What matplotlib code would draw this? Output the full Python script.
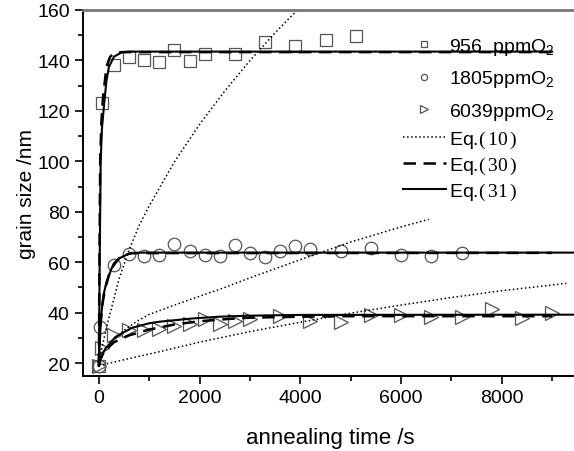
import matplotlib
matplotlib.use("Agg")
import matplotlib.pyplot as plt

plt.rcParams['font.family'] = ['Liberation Sans', 'DejaVu Sans']
plt.rcParams['mathtext.fontset'] = 'custom'
plt.rcParams['mathtext.rm'] = 'Liberation Sans'
plt.rcParams['mathtext.it'] = 'Liberation Sans:italic'
plt.rcParams['mathtext.sf'] = 'Liberation Serif'

# measured grain sizes
t_956 = [0, 60, 300, 600, 900, 1200, 1500, 1800, 2100, 2700, 3300, 3900, 4500, 5100]
d_956 = [19, 123, 138, 141.3, 140.3, 139.5, 144, 139.8, 142.5, 142.5, 147.3, 145.8, 148.2, 149.8]

t_1805 = [0, 30, 300, 600, 900, 1200, 1500, 1800, 2100, 2400, 2700, 3000, 3300, 3600,
          3900, 4200, 4800, 5400, 6000, 6600, 7200]
d_1805 = [19, 34.2, 58.8, 63.3, 62.6, 62.8, 67.2, 64.3, 62.8, 62.4, 66.7, 63.5, 62.2, 64.3,
          66.5, 65.2, 64.4, 65.8, 62.8, 62.5, 63.6]

t_6039 = [0, 60, 300, 600, 900, 1200, 1500, 1800, 2100, 2400, 2700, 3000, 3600, 4200,
          4800, 5400, 6000, 6600, 7200, 7800, 8400, 9000]
d_6039 = [19, 26, 31.3, 33, 33.3, 33.7, 34.6, 35.5, 37.5, 35.5, 36.5, 37.6, 38.8, 36.5,
          36.1, 39, 39, 38.4, 38.4, 41.4, 38, 39.7]

# Eq.(10) curves
eq10_t_956 = [0, 50, 100, 200, 400, 600, 800, 1000, 1500, 2000, 2500, 3000, 3500, 3940]
eq10_d_956 = [19, 25, 29.7, 38, 53.4, 65, 74.6, 82.4, 99.8, 114.7, 127.9, 140, 151, 160]
eq10_t_1805 = [0, 50, 150, 300, 500, 750, 1000, 1500, 2000, 2500, 3000, 4000, 5000, 6000, 6550]
eq10_d_1805 = [19, 22, 26, 29.5, 33, 36.5, 39.3, 43, 46.5, 50, 53.8, 61, 68, 74, 77]
eq10_t_6039 = [0, 600, 1200, 2000, 3000, 4000, 5000, 6000, 7000, 8000, 9280]
eq10_d_6039 = [19, 21.8, 24.5, 28.3, 32.5, 36.2, 39.8, 43, 46, 48.7, 51.6]

# Eq.(30) curves
eq30_t_956 = [0, 10, 25, 50, 80, 150, 220, 300, 450, 9000]
eq30_d_956 = [19, 60, 100, 116, 125, 137.5, 141.4, 142.8, 143.3, 143.3]
eq30_t_1805 = [0, 10, 30, 70, 130, 200, 300, 450, 650, 9000]
eq30_d_1805 = [19, 27, 35, 43.5, 50, 55, 59.5, 62.5, 63.6, 63.7]
eq30_t_6039 = [0, 30, 100, 300, 600, 1000, 1500, 2000, 2500, 3000, 4000, 5000, 9000]
eq30_d_6039 = [19, 21.5, 24.5, 28.3, 31, 33.3, 35.3, 36.6, 37.4, 38, 38.4, 38.6, 38.6]

# Eq.(31) curves
eq31_t_956 = [0, 15, 35, 60, 100, 150, 200, 300, 450, 600, 9000]
eq31_d_956 = [19, 60, 100, 113, 122, 132, 137.5, 141.5, 143.2, 143.5, 143.5]
eq31_t_1805 = [0, 20, 50, 90, 150, 250, 400, 600, 800, 9600]
eq31_d_1805 = [19, 30, 40, 47, 52, 57.5, 61.5, 63.4, 63.8, 63.8]
eq31_t_6039 = [0, 30, 130, 330, 660, 1000, 1200, 1860, 2400, 3000, 4000, 9600]
eq31_d_6039 = [19, 22, 25.8, 30.4, 34, 35.8, 36.4, 37.7, 38.4, 38.8, 39.1, 39.2]

fig = plt.figure(figsize=(5.74, 4.52), dpi=100)
ax = fig.add_axes([0.1446, 0.1666, 0.86, 0.8091])

mk = dict(linestyle='none', markerfacecolor='none', markeredgecolor='#555555',
          markeredgewidth=0.9)
h1, = ax.plot(t_956, d_956, marker='s', markersize=8.5, label='956  ppmO$_2$', **mk)
h2, = ax.plot(t_1805, d_1805, marker='o', markersize=9, label='1805ppmO$_2$', **mk)
h3, = ax.plot(t_6039, d_6039, marker='>', markersize=10.5, label='6039ppmO$_2$', **mk)

for tt, dd in [(eq10_t_956, eq10_d_956), (eq10_t_1805, eq10_d_1805), (eq10_t_6039, eq10_d_6039)]:
    ax.plot(tt, dd, color='black', linestyle=':', linewidth=1.1)
for tt, dd in [(eq30_t_956, eq30_d_956), (eq30_t_1805, eq30_d_1805), (eq30_t_6039, eq30_d_6039)]:
    ax.plot(tt, dd, color='black', linestyle=(0, (5, 3)), linewidth=1.8)
for tt, dd in [(eq31_t_956, eq31_d_956), (eq31_t_1805, eq31_d_1805), (eq31_t_6039, eq31_d_6039)]:
    ax.plot(tt, dd, color='black', linestyle='-', linewidth=1.5)

# legend proxies for the fit curves
h4, = ax.plot([], [], color='black', linestyle=':', linewidth=1.1, label='Eq.$\\mathsf{(\\,10\\,)}$')
h5, = ax.plot([], [], color='black', linestyle=(0, (5, 3)), linewidth=1.8, label='Eq.$\\mathsf{(\\,30\\,)}$')
h6, = ax.plot([], [], color='black', linestyle='-', linewidth=1.5, label='Eq.$\\mathsf{(\\,31\\,)}$')

ax.set_xlim(-316, 9485)
ax.set_ylim(15, 160)
ax.set_xticks([0, 2000, 4000, 6000, 8000])
ax.set_xticks(range(1000, 10000, 2000), minor=True)
ax.set_yticks(range(20, 161, 20))
ax.set_yticks(range(30, 160, 20), minor=True)
ax.tick_params(axis='both', which='major', direction='out', length=6, width=1.2,
               labelsize=14, top=False, right=False)
ax.tick_params(axis='both', which='minor', direction='out', length=3.5, width=1.2,
               top=False, right=False)

ax.spines['right'].set_visible(False)
ax.spines['top'].set_color('#777777')
ax.spines['top'].set_linewidth(2)
ax.spines['left'].set_linewidth(1.4)
ax.spines['bottom'].set_linewidth(1.4)

ax.set_xlabel('annealing time /s', fontsize=16, labelpad=15)
ax.set_ylabel('grain size /nm', fontsize=15, labelpad=1)

leg_kw = dict(loc='upper left', bbox_transform=fig.transFigure, frameon=False,
              fontsize=14, markerscale=0.5, handlelength=2.2, handletextpad=0.2,
              borderpad=0)
leg1 = ax.legend(handles=[h1, h2, h3], bbox_to_anchor=(393 / 574, 1 - 27 / 452),
                 labelspacing=0.6, **leg_kw)
ax.add_artist(leg1)
ax.legend(handles=[h4, h5, h6], bbox_to_anchor=(393 / 574, 1 - 120 / 452),
          labelspacing=0.25, **leg_kw)

fig.savefig('out.png', dpi=100)
